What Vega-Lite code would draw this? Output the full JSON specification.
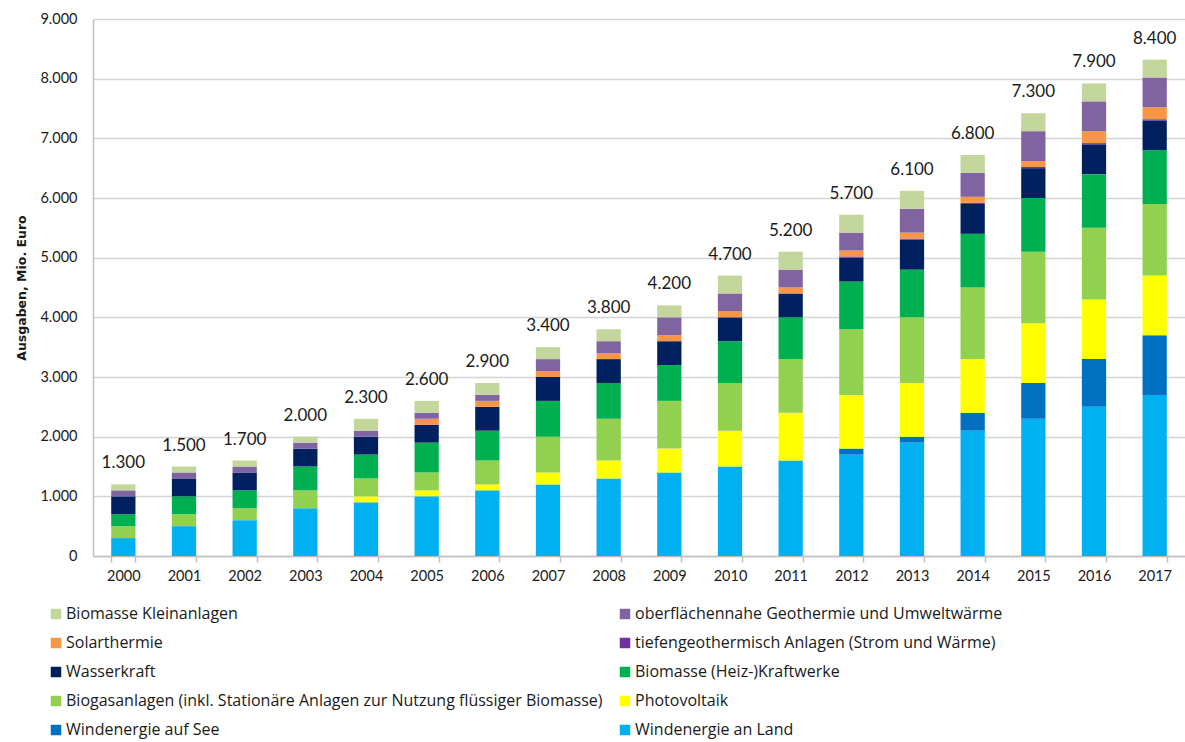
{
  "$schema": "https://vega.github.io/schema/vega-lite/v6.json",
  "autosize": "none",
  "width": 1092,
  "height": 537,
  "padding": {"top": 19, "left": 93, "right": 0, "bottom": 186},
  "background": "white",
  "config": {
    "font": "Lato",
    "locale": {"number": {"decimal": ",", "thousands": ".", "grouping": [3], "currency": ["", " €"]}},
    "view": {"stroke": null},
    "axis": {"labelFont": "Lato", "titleFont": "Lato", "labelColor": "#1a1a1a", "titleColor": "#1a1a1a"}
  },
  "datasets": {
    "werte": [
      {"Jahr": "2000", "Quelle": "Windenergie an Land", "Wert": 300},
      {"Jahr": "2000", "Quelle": "Biogasanlagen (inkl. Stationäre Anlagen zur Nutzung flüssiger Biomasse)", "Wert": 200},
      {"Jahr": "2000", "Quelle": "Biomasse (Heiz-)Kraftwerke", "Wert": 200},
      {"Jahr": "2000", "Quelle": "Wasserkraft", "Wert": 300},
      {"Jahr": "2000", "Quelle": "oberflächennahe Geothermie und Umweltwärme", "Wert": 100},
      {"Jahr": "2000", "Quelle": "Biomasse Kleinanlagen", "Wert": 100},

      {"Jahr": "2001", "Quelle": "Windenergie an Land", "Wert": 500},
      {"Jahr": "2001", "Quelle": "Biogasanlagen (inkl. Stationäre Anlagen zur Nutzung flüssiger Biomasse)", "Wert": 200},
      {"Jahr": "2001", "Quelle": "Biomasse (Heiz-)Kraftwerke", "Wert": 300},
      {"Jahr": "2001", "Quelle": "Wasserkraft", "Wert": 300},
      {"Jahr": "2001", "Quelle": "oberflächennahe Geothermie und Umweltwärme", "Wert": 100},
      {"Jahr": "2001", "Quelle": "Biomasse Kleinanlagen", "Wert": 100},

      {"Jahr": "2002", "Quelle": "Windenergie an Land", "Wert": 600},
      {"Jahr": "2002", "Quelle": "Biogasanlagen (inkl. Stationäre Anlagen zur Nutzung flüssiger Biomasse)", "Wert": 200},
      {"Jahr": "2002", "Quelle": "Biomasse (Heiz-)Kraftwerke", "Wert": 300},
      {"Jahr": "2002", "Quelle": "Wasserkraft", "Wert": 300},
      {"Jahr": "2002", "Quelle": "oberflächennahe Geothermie und Umweltwärme", "Wert": 100},
      {"Jahr": "2002", "Quelle": "Biomasse Kleinanlagen", "Wert": 100},

      {"Jahr": "2003", "Quelle": "Windenergie an Land", "Wert": 800},
      {"Jahr": "2003", "Quelle": "Biogasanlagen (inkl. Stationäre Anlagen zur Nutzung flüssiger Biomasse)", "Wert": 300},
      {"Jahr": "2003", "Quelle": "Biomasse (Heiz-)Kraftwerke", "Wert": 400},
      {"Jahr": "2003", "Quelle": "Wasserkraft", "Wert": 300},
      {"Jahr": "2003", "Quelle": "oberflächennahe Geothermie und Umweltwärme", "Wert": 100},
      {"Jahr": "2003", "Quelle": "Biomasse Kleinanlagen", "Wert": 100},

      {"Jahr": "2004", "Quelle": "Windenergie an Land", "Wert": 900},
      {"Jahr": "2004", "Quelle": "Photovoltaik", "Wert": 100},
      {"Jahr": "2004", "Quelle": "Biogasanlagen (inkl. Stationäre Anlagen zur Nutzung flüssiger Biomasse)", "Wert": 300},
      {"Jahr": "2004", "Quelle": "Biomasse (Heiz-)Kraftwerke", "Wert": 400},
      {"Jahr": "2004", "Quelle": "Wasserkraft", "Wert": 300},
      {"Jahr": "2004", "Quelle": "oberflächennahe Geothermie und Umweltwärme", "Wert": 100},
      {"Jahr": "2004", "Quelle": "Biomasse Kleinanlagen", "Wert": 200},

      {"Jahr": "2005", "Quelle": "Windenergie an Land", "Wert": 1000},
      {"Jahr": "2005", "Quelle": "Photovoltaik", "Wert": 100},
      {"Jahr": "2005", "Quelle": "Biogasanlagen (inkl. Stationäre Anlagen zur Nutzung flüssiger Biomasse)", "Wert": 300},
      {"Jahr": "2005", "Quelle": "Biomasse (Heiz-)Kraftwerke", "Wert": 500},
      {"Jahr": "2005", "Quelle": "Wasserkraft", "Wert": 300},
      {"Jahr": "2005", "Quelle": "Solarthermie", "Wert": 100},
      {"Jahr": "2005", "Quelle": "oberflächennahe Geothermie und Umweltwärme", "Wert": 100},
      {"Jahr": "2005", "Quelle": "Biomasse Kleinanlagen", "Wert": 200},

      {"Jahr": "2006", "Quelle": "Windenergie an Land", "Wert": 1100},
      {"Jahr": "2006", "Quelle": "Photovoltaik", "Wert": 100},
      {"Jahr": "2006", "Quelle": "Biogasanlagen (inkl. Stationäre Anlagen zur Nutzung flüssiger Biomasse)", "Wert": 400},
      {"Jahr": "2006", "Quelle": "Biomasse (Heiz-)Kraftwerke", "Wert": 500},
      {"Jahr": "2006", "Quelle": "Wasserkraft", "Wert": 400},
      {"Jahr": "2006", "Quelle": "Solarthermie", "Wert": 100},
      {"Jahr": "2006", "Quelle": "oberflächennahe Geothermie und Umweltwärme", "Wert": 100},
      {"Jahr": "2006", "Quelle": "Biomasse Kleinanlagen", "Wert": 200},

      {"Jahr": "2007", "Quelle": "Windenergie an Land", "Wert": 1200},
      {"Jahr": "2007", "Quelle": "Photovoltaik", "Wert": 200},
      {"Jahr": "2007", "Quelle": "Biogasanlagen (inkl. Stationäre Anlagen zur Nutzung flüssiger Biomasse)", "Wert": 600},
      {"Jahr": "2007", "Quelle": "Biomasse (Heiz-)Kraftwerke", "Wert": 600},
      {"Jahr": "2007", "Quelle": "Wasserkraft", "Wert": 400},
      {"Jahr": "2007", "Quelle": "Solarthermie", "Wert": 100},
      {"Jahr": "2007", "Quelle": "oberflächennahe Geothermie und Umweltwärme", "Wert": 200},
      {"Jahr": "2007", "Quelle": "Biomasse Kleinanlagen", "Wert": 200},

      {"Jahr": "2008", "Quelle": "Windenergie an Land", "Wert": 1300},
      {"Jahr": "2008", "Quelle": "Photovoltaik", "Wert": 300},
      {"Jahr": "2008", "Quelle": "Biogasanlagen (inkl. Stationäre Anlagen zur Nutzung flüssiger Biomasse)", "Wert": 700},
      {"Jahr": "2008", "Quelle": "Biomasse (Heiz-)Kraftwerke", "Wert": 600},
      {"Jahr": "2008", "Quelle": "Wasserkraft", "Wert": 400},
      {"Jahr": "2008", "Quelle": "Solarthermie", "Wert": 100},
      {"Jahr": "2008", "Quelle": "oberflächennahe Geothermie und Umweltwärme", "Wert": 200},
      {"Jahr": "2008", "Quelle": "Biomasse Kleinanlagen", "Wert": 200},

      {"Jahr": "2009", "Quelle": "Windenergie an Land", "Wert": 1400},
      {"Jahr": "2009", "Quelle": "Photovoltaik", "Wert": 400},
      {"Jahr": "2009", "Quelle": "Biogasanlagen (inkl. Stationäre Anlagen zur Nutzung flüssiger Biomasse)", "Wert": 800},
      {"Jahr": "2009", "Quelle": "Biomasse (Heiz-)Kraftwerke", "Wert": 600},
      {"Jahr": "2009", "Quelle": "Wasserkraft", "Wert": 400},
      {"Jahr": "2009", "Quelle": "Solarthermie", "Wert": 100},
      {"Jahr": "2009", "Quelle": "oberflächennahe Geothermie und Umweltwärme", "Wert": 300},
      {"Jahr": "2009", "Quelle": "Biomasse Kleinanlagen", "Wert": 200},

      {"Jahr": "2010", "Quelle": "Windenergie an Land", "Wert": 1500},
      {"Jahr": "2010", "Quelle": "Photovoltaik", "Wert": 600},
      {"Jahr": "2010", "Quelle": "Biogasanlagen (inkl. Stationäre Anlagen zur Nutzung flüssiger Biomasse)", "Wert": 800},
      {"Jahr": "2010", "Quelle": "Biomasse (Heiz-)Kraftwerke", "Wert": 700},
      {"Jahr": "2010", "Quelle": "Wasserkraft", "Wert": 400},
      {"Jahr": "2010", "Quelle": "Solarthermie", "Wert": 100},
      {"Jahr": "2010", "Quelle": "oberflächennahe Geothermie und Umweltwärme", "Wert": 300},
      {"Jahr": "2010", "Quelle": "Biomasse Kleinanlagen", "Wert": 300},

      {"Jahr": "2011", "Quelle": "Windenergie an Land", "Wert": 1600},
      {"Jahr": "2011", "Quelle": "Photovoltaik", "Wert": 800},
      {"Jahr": "2011", "Quelle": "Biogasanlagen (inkl. Stationäre Anlagen zur Nutzung flüssiger Biomasse)", "Wert": 900},
      {"Jahr": "2011", "Quelle": "Biomasse (Heiz-)Kraftwerke", "Wert": 700},
      {"Jahr": "2011", "Quelle": "Wasserkraft", "Wert": 400},
      {"Jahr": "2011", "Quelle": "Solarthermie", "Wert": 100},
      {"Jahr": "2011", "Quelle": "oberflächennahe Geothermie und Umweltwärme", "Wert": 300},
      {"Jahr": "2011", "Quelle": "Biomasse Kleinanlagen", "Wert": 300},

      {"Jahr": "2012", "Quelle": "Windenergie an Land", "Wert": 1700},
      {"Jahr": "2012", "Quelle": "Windenergie auf See", "Wert": 100},
      {"Jahr": "2012", "Quelle": "Photovoltaik", "Wert": 900},
      {"Jahr": "2012", "Quelle": "Biogasanlagen (inkl. Stationäre Anlagen zur Nutzung flüssiger Biomasse)", "Wert": 1100},
      {"Jahr": "2012", "Quelle": "Biomasse (Heiz-)Kraftwerke", "Wert": 800},
      {"Jahr": "2012", "Quelle": "Wasserkraft", "Wert": 400},
      {"Jahr": "2012", "Quelle": "tiefengeothermisch Anlagen (Strom und Wärme)", "Wert": 20},
      {"Jahr": "2012", "Quelle": "Solarthermie", "Wert": 100},
      {"Jahr": "2012", "Quelle": "oberflächennahe Geothermie und Umweltwärme", "Wert": 300},
      {"Jahr": "2012", "Quelle": "Biomasse Kleinanlagen", "Wert": 300},

      {"Jahr": "2013", "Quelle": "Windenergie an Land", "Wert": 1900},
      {"Jahr": "2013", "Quelle": "Windenergie auf See", "Wert": 100},
      {"Jahr": "2013", "Quelle": "Photovoltaik", "Wert": 900},
      {"Jahr": "2013", "Quelle": "Biogasanlagen (inkl. Stationäre Anlagen zur Nutzung flüssiger Biomasse)", "Wert": 1100},
      {"Jahr": "2013", "Quelle": "Biomasse (Heiz-)Kraftwerke", "Wert": 800},
      {"Jahr": "2013", "Quelle": "Wasserkraft", "Wert": 500},
      {"Jahr": "2013", "Quelle": "tiefengeothermisch Anlagen (Strom und Wärme)", "Wert": 20},
      {"Jahr": "2013", "Quelle": "Solarthermie", "Wert": 100},
      {"Jahr": "2013", "Quelle": "oberflächennahe Geothermie und Umweltwärme", "Wert": 400},
      {"Jahr": "2013", "Quelle": "Biomasse Kleinanlagen", "Wert": 300},

      {"Jahr": "2014", "Quelle": "Windenergie an Land", "Wert": 2100},
      {"Jahr": "2014", "Quelle": "Windenergie auf See", "Wert": 300},
      {"Jahr": "2014", "Quelle": "Photovoltaik", "Wert": 900},
      {"Jahr": "2014", "Quelle": "Biogasanlagen (inkl. Stationäre Anlagen zur Nutzung flüssiger Biomasse)", "Wert": 1200},
      {"Jahr": "2014", "Quelle": "Biomasse (Heiz-)Kraftwerke", "Wert": 900},
      {"Jahr": "2014", "Quelle": "Wasserkraft", "Wert": 500},
      {"Jahr": "2014", "Quelle": "tiefengeothermisch Anlagen (Strom und Wärme)", "Wert": 20},
      {"Jahr": "2014", "Quelle": "Solarthermie", "Wert": 100},
      {"Jahr": "2014", "Quelle": "oberflächennahe Geothermie und Umweltwärme", "Wert": 400},
      {"Jahr": "2014", "Quelle": "Biomasse Kleinanlagen", "Wert": 300},

      {"Jahr": "2015", "Quelle": "Windenergie an Land", "Wert": 2300},
      {"Jahr": "2015", "Quelle": "Windenergie auf See", "Wert": 600},
      {"Jahr": "2015", "Quelle": "Photovoltaik", "Wert": 1000},
      {"Jahr": "2015", "Quelle": "Biogasanlagen (inkl. Stationäre Anlagen zur Nutzung flüssiger Biomasse)", "Wert": 1200},
      {"Jahr": "2015", "Quelle": "Biomasse (Heiz-)Kraftwerke", "Wert": 900},
      {"Jahr": "2015", "Quelle": "Wasserkraft", "Wert": 500},
      {"Jahr": "2015", "Quelle": "tiefengeothermisch Anlagen (Strom und Wärme)", "Wert": 20},
      {"Jahr": "2015", "Quelle": "Solarthermie", "Wert": 100},
      {"Jahr": "2015", "Quelle": "oberflächennahe Geothermie und Umweltwärme", "Wert": 500},
      {"Jahr": "2015", "Quelle": "Biomasse Kleinanlagen", "Wert": 300},

      {"Jahr": "2016", "Quelle": "Windenergie an Land", "Wert": 2500},
      {"Jahr": "2016", "Quelle": "Windenergie auf See", "Wert": 800},
      {"Jahr": "2016", "Quelle": "Photovoltaik", "Wert": 1000},
      {"Jahr": "2016", "Quelle": "Biogasanlagen (inkl. Stationäre Anlagen zur Nutzung flüssiger Biomasse)", "Wert": 1200},
      {"Jahr": "2016", "Quelle": "Biomasse (Heiz-)Kraftwerke", "Wert": 900},
      {"Jahr": "2016", "Quelle": "Wasserkraft", "Wert": 500},
      {"Jahr": "2016", "Quelle": "tiefengeothermisch Anlagen (Strom und Wärme)", "Wert": 20},
      {"Jahr": "2016", "Quelle": "Solarthermie", "Wert": 200},
      {"Jahr": "2016", "Quelle": "oberflächennahe Geothermie und Umweltwärme", "Wert": 500},
      {"Jahr": "2016", "Quelle": "Biomasse Kleinanlagen", "Wert": 300},

      {"Jahr": "2017", "Quelle": "Windenergie an Land", "Wert": 2700},
      {"Jahr": "2017", "Quelle": "Windenergie auf See", "Wert": 1000},
      {"Jahr": "2017", "Quelle": "Photovoltaik", "Wert": 1000},
      {"Jahr": "2017", "Quelle": "Biogasanlagen (inkl. Stationäre Anlagen zur Nutzung flüssiger Biomasse)", "Wert": 1200},
      {"Jahr": "2017", "Quelle": "Biomasse (Heiz-)Kraftwerke", "Wert": 900},
      {"Jahr": "2017", "Quelle": "Wasserkraft", "Wert": 500},
      {"Jahr": "2017", "Quelle": "tiefengeothermisch Anlagen (Strom und Wärme)", "Wert": 20},
      {"Jahr": "2017", "Quelle": "Solarthermie", "Wert": 200},
      {"Jahr": "2017", "Quelle": "oberflächennahe Geothermie und Umweltwärme", "Wert": 500},
      {"Jahr": "2017", "Quelle": "Biomasse Kleinanlagen", "Wert": 300}
    ],
    "summen": [
      {"Jahr": "2000", "Summe": 1300},
      {"Jahr": "2001", "Summe": 1500},
      {"Jahr": "2002", "Summe": 1700},
      {"Jahr": "2003", "Summe": 2000},
      {"Jahr": "2004", "Summe": 2300},
      {"Jahr": "2005", "Summe": 2600},
      {"Jahr": "2006", "Summe": 2900},
      {"Jahr": "2007", "Summe": 3400},
      {"Jahr": "2008", "Summe": 3800},
      {"Jahr": "2009", "Summe": 4200},
      {"Jahr": "2010", "Summe": 4700},
      {"Jahr": "2011", "Summe": 5200},
      {"Jahr": "2012", "Summe": 5700},
      {"Jahr": "2013", "Summe": 6100},
      {"Jahr": "2014", "Summe": 6800},
      {"Jahr": "2015", "Summe": 7300},
      {"Jahr": "2016", "Summe": 7900},
      {"Jahr": "2017", "Summe": 8400}
    ]
  },
  "encoding": {
    "x": {
      "field": "Jahr", "type": "ordinal", "title": null,
      "scale": {"paddingInner": 0.6, "paddingOuter": 0.3},
      "axis": {
        "labelAngle": 0, "labelFontSize": 14.5, "labelPadding": 7,
        "domainColor": "#bfbfbf", "domainWidth": 1.5,
        "tickColor": "#bfbfbf", "tickWidth": 1.5, "tickSize": 6, "tickBand": "extent"
      }
    }
  },
  "layer": [
    {
      "data": {"name": "werte"},
      "transform": [
        {"calculate": "indexof(['Windenergie an Land','Windenergie auf See','Photovoltaik','Biogasanlagen (inkl. Stationäre Anlagen zur Nutzung flüssiger Biomasse)','Biomasse (Heiz-)Kraftwerke','Wasserkraft','tiefengeothermisch Anlagen (Strom und Wärme)','Solarthermie','oberflächennahe Geothermie und Umweltwärme','Biomasse Kleinanlagen'], datum.Quelle)", "as": "Rang"}
      ],
      "mark": {"type": "bar"},
      "encoding": {
        "y": {
          "field": "Wert", "type": "quantitative", "stack": "zero",
          "title": "Ausgaben, Mio. Euro",
          "scale": {"domain": [0, 9000], "nice": false},
          "axis": {
            "values": [0, 1000, 2000, 3000, 4000, 5000, 6000, 7000, 8000, 9000],
            "format": ",.0f", "labelFontSize": 14.5, "labelPadding": 16,
            "ticks": false, "domainColor": "#bfbfbf", "domainWidth": 1.5,
            "gridColor": "#d4d4d4", "gridWidth": 1.5,
            "titleFont": "DejaVu Sans", "titleFontSize": 12.5, "titleFontWeight": "bold", "titlePadding": 11
          }
        },
        "color": {
          "field": "Quelle", "type": "nominal", "title": null,
          "scale": {
            "domain": ["Biomasse Kleinanlagen", "oberflächennahe Geothermie und Umweltwärme", "Solarthermie", "tiefengeothermisch Anlagen (Strom und Wärme)", "Wasserkraft", "Biomasse (Heiz-)Kraftwerke", "Biogasanlagen (inkl. Stationäre Anlagen zur Nutzung flüssiger Biomasse)", "Photovoltaik", "Windenergie auf See", "Windenergie an Land"],
            "range": ["#C3D69B", "#8064A2", "#F79646", "#7030A0", "#002060", "#00B050", "#92D050", "#FFFF00", "#0070C0", "#00B0F0"]
          },
          "legend": {
            "orient": "none", "legendX": -45, "legendY": 587, "direction": "horizontal",
            "columns": 2, "columnPadding": 14, "rowPadding": 13,
            "symbolType": "square", "symbolSize": 110, "symbolStrokeWidth": 0,
            "labelFontSize": 16, "labelFont": "Open Sans", "labelColor": "#1a1a1a",
            "labelLimit": 1000, "labelOffset": 2
          }
        },
        "order": {"field": "Rang", "type": "quantitative", "sort": "ascending"}
      }
    },
    {
      "data": {"name": "werte"},
      "transform": [
        {"aggregate": [{"op": "sum", "field": "Wert", "as": "Hoehe"}], "groupby": ["Jahr"]},
        {"lookup": "Jahr", "from": {"data": {"name": "summen"}, "key": "Jahr", "fields": ["Summe"]}}
      ],
      "mark": {"type": "text", "baseline": "middle", "dy": -21, "fontSize": 17, "font": "Lato", "color": "#1a1a1a"},
      "encoding": {
        "y": {"field": "Hoehe", "type": "quantitative"},
        "text": {"field": "Summe", "type": "quantitative", "format": ",.0f"}
      }
    }
  ]
}
